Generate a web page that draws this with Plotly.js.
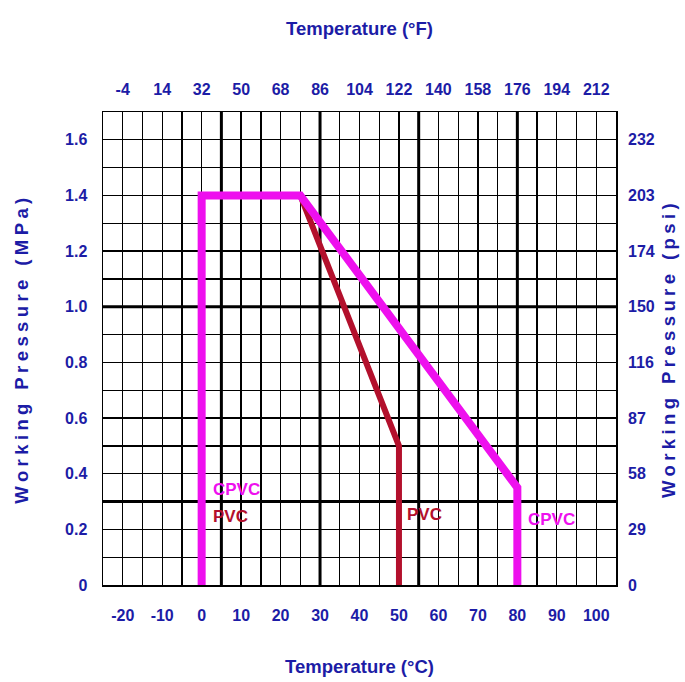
<!DOCTYPE html>
<html>
<head>
<meta charset="utf-8">
<script src="https://cdn.plot.ly/plotly-3.0.1.min.js"></script>
<style>
  html, body { margin: 0; padding: 0; background: #fff; }
  #chart { width: 685px; height: 682px; }
  .g-ytitle text, .g-y2title text { letter-spacing: 4.4px; }
</style>
</head>
<body>
<div id="chart"></div>
<script>
// ---- Data ----
const tempC_ticks = [-20, -10, 0, 10, 20, 30, 40, 50, 60, 70, 80, 90, 100];
const tempF_labels = ['-4', '14', '32', '50', '68', '86', '104', '122', '140', '158', '176', '194', '212'];
const mpa_ticks = [0, 0.2, 0.4, 0.6, 0.8, 1.0, 1.2, 1.4, 1.6];
const mpa_labels = ['0', '0.2', '0.4', '0.6', '0.8', '1.0', '1.2', '1.4', '1.6'];
const psi_labels = ['0', '29', '58', '87', '116', '150', '174', '203', '232'];

const pvc_temp = [0, 0, 25, 50, 50];
const pvc_pressure = [0, 1.4, 1.4, 0.5, 0];
const cpvc_temp = [0, 0, 25, 80, 80];
const cpvc_pressure = [0, 1.4, 1.4, 0.35, 0];

const label_text = ['CPVC', 'PVC', 'PVC', 'CPVC'];
const label_temp = [2.3, 2.3, 51.5, 82.3];
const label_pressure = [0.345, 0.245, 0.255, 0.235];
const label_series = ['cpvc', 'pvc', 'pvc', 'cpvc'];

const heavyX = [5, 30, 55, 80];
const heavyY = [0.3, 1.0];

// ---- Styling ----
const FONT = 'Liberation Sans, Arial, sans-serif';
const BLUE = '#1c1ca6';
const PVC_COLOR = '#b3102c';
const CPVC_COLOR = '#ee10ee';
const tickFont = {family: FONT, size: 16, color: BLUE, weight: 700};
const titleFont = {family: FONT, size: 18.5, color: BLUE, weight: 700};

const traces = [
  {x: pvc_temp, y: pvc_pressure, mode: 'lines', name: 'PVC',
   line: {color: PVC_COLOR, width: 6}, hoverinfo: 'skip', xaxis: 'x', yaxis: 'y'},
  {x: cpvc_temp, y: cpvc_pressure, mode: 'lines', name: 'CPVC',
   line: {color: CPVC_COLOR, width: 8}, hoverinfo: 'skip', xaxis: 'x', yaxis: 'y'},
  {x: [-25], y: [0], mode: 'markers', marker: {opacity: 0}, hoverinfo: 'skip',
   showlegend: false, xaxis: 'x2', yaxis: 'y2'}
];

const gridCommon = {
  showgrid: true, gridcolor: '#000', gridwidth: 1.3,
  showline: true, linecolor: '#000', linewidth: 1.5, mirror: true,
  zeroline: false, ticks: '', fixedrange: true
};

const shapes = [];
heavyX.forEach(v => shapes.push({type: 'line', xref: 'x', yref: 'paper', x0: v, x1: v, y0: 0, y1: 1,
  line: {color: '#000', width: 3}, layer: 'below'}));
heavyY.forEach(v => shapes.push({type: 'line', xref: 'paper', yref: 'y', x0: 0, x1: 1, y0: v, y1: v,
  line: {color: '#000', width: 3}, layer: 'below'}));

const annotations = label_text.map((t, i) => ({
  x: label_temp[i], y: label_pressure[i], xref: 'x', yref: 'y', text: t,
  showarrow: false, xanchor: 'left', yanchor: 'middle',
  font: {family: FONT, size: 17, weight: 700, color: label_series[i] === 'pvc' ? PVC_COLOR : CPVC_COLOR}
}));

const layout = {
  width: 685, height: 682,
  margin: {l: 103, r: 69, t: 112, b: 97},
  paper_bgcolor: '#fff', plot_bgcolor: '#fff',
  showlegend: false,
  xaxis: Object.assign({}, gridCommon, {
    range: [-25, 105], tickvals: tempC_ticks, ticktext: tempC_ticks.map(String),
    tickfont: tickFont, ticklabelstandoff: 15,
    minor: {dtick: 5, tick0: 0, showgrid: true, gridcolor: '#000', gridwidth: 1.3},
    title: {text: 'Temperature (°C)', font: titleFont, standoff: 37}
  }),
  xaxis2: {
    overlaying: 'x', side: 'top', range: [-25, 105], tickvals: tempC_ticks, ticktext: tempF_labels,
    showgrid: false, zeroline: false, ticks: '', tickfont: tickFont, ticklabelstandoff: 13,
    fixedrange: true,
    title: {text: 'Temperature (°F)', font: titleFont, standoff: 40}
  },
  yaxis: Object.assign({}, gridCommon, {
    range: [0, 1.7], tickvals: mpa_ticks, ticktext: mpa_labels,
    tickfont: tickFont, ticklabelstandoff: 11,
    minor: {dtick: 0.1, tick0: 0, showgrid: true, gridcolor: '#000', gridwidth: 1.3},
    title: {text: 'Working Pressure (MPa)', font: titleFont, standoff: 31}
  }),
  yaxis2: {
    overlaying: 'y', side: 'right', range: [0, 1.7], tickvals: mpa_ticks, ticktext: psi_labels,
    showgrid: false, zeroline: false, ticks: '', tickfont: tickFont, ticklabelstandoff: 11,
    fixedrange: true,
    title: {text: 'Working Pressure (psi)', font: titleFont, standoff: 8}
  },
  shapes: shapes,
  annotations: annotations
};

Plotly.newPlot('chart', traces, layout, {displayModeBar: false, staticPlot: true});
</script>
</body>
</html>
